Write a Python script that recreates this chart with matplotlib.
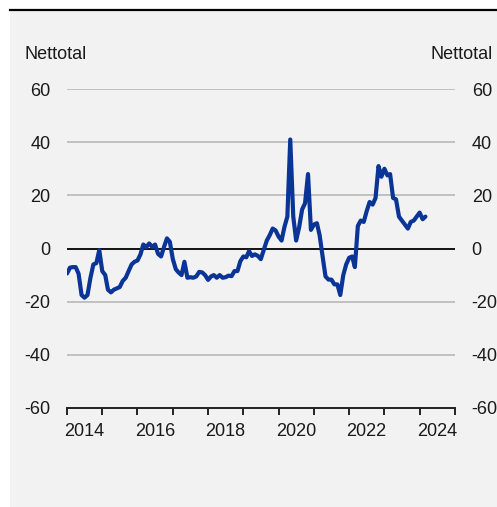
import matplotlib
matplotlib.use("Agg")
import matplotlib.pyplot as plt
from matplotlib.patches import Rectangle
from matplotlib.lines import Line2D
import pandas as pd

# Monthly net balance, January 2014 onwards
start_month = "2014-01"
nettotal = [
    -9.4, -7.2, -7.0, -7.0, -9.5, -17.5, -18.5, -17.5, -11.0, -6.0,
    -5.5, -0.6, -8.5, -10.0, -15.5, -16.5, -15.5, -15.0, -14.5, -12.2,
    -11.0, -8.5, -6.0, -5.0, -4.5, -2.2, 1.5, 0.5, 1.9, 0.6,
    1.5, -2.0, -3.0, 0.5, 3.8, 2.5, -4.0, -7.8, -9.0, -10.0,
    -5.0, -11.0, -10.8, -11.0, -10.5, -8.8, -9.0, -10.0, -11.8, -10.5,
    -10.0, -11.0, -10.0, -11.0, -10.8, -10.2, -10.4, -8.5, -8.5, -4.8,
    -3.0, -3.3, -1.0, -2.8, -2.2, -2.8, -4.0, -0.5, 3.0, 5.0,
    7.5, 6.8, 4.5, 3.0, 8.0, 12.0, 41.0, 12.0, 3.0, 8.0,
    14.7, 17.0, 28.0, 7.0, 9.0, 9.5, 5.0, -3.0, -10.5, -11.7,
    -11.7, -13.5, -13.5, -17.5, -10.0, -6.0, -3.5, -3.0, -7.0, 8.5,
    10.5, 10.0, 14.0, 17.5, 16.5, 19.0, 31.0, 27.0, 30.0, 27.5,
    28.0, 19.0, 18.5, 12.0, 10.5, 9.0, 7.5, 10.0, 10.5, 12.0,
    13.5, 11.0, 12.0,
]
y_ticks = [-60, -40, -20, 0, 20, 40, 60]
year_labels = ["2014", "2016", "2018", "2020", "2022", "2024"]
first_year, last_year = 2014, 2025
axis_title = "Nettotal"

dates = pd.date_range(start_month, periods=len(nettotal), freq="MS")

plt.rcParams["font.family"] = ["Liberation Sans", "DejaVu Sans"]
W, H = 497, 507
fig = plt.figure(figsize=(W / 100, H / 100), dpi=100)
fig.patch.set_facecolor("white")

# Grey panel with a black rule along its top edge
fig.patches.append(Rectangle((10 / W, 0), 1 - 10 / W, 1 - 10 / H,
                             transform=fig.transFigure, facecolor="#f2f2f2",
                             edgecolor="none", zorder=-10))
fig.lines.append(Line2D([10 / W, 1], [1 - 10 / H, 1 - 10 / H],
                        transform=fig.transFigure, color="black", lw=1.6,
                        zorder=-5))

left, right = 67 / W, 455 / W
bottom, top = 1 - 408 / H, 1 - 89 / H
ax = fig.add_axes([left, bottom, right - left, top - bottom])
ax.set_facecolor("none")

ax.set_ylim(-60, 60)
x0 = pd.Timestamp(f"{first_year}-01-01")
x1 = pd.Timestamp(f"{last_year}-01-01")
ax.set_xlim(x0, x1)

for v in y_ticks:
    if v == -60:
        continue
    ax.axhline(v, color="black" if v == 0 else "#b3b3b3",
               lw=1.3 if v == 0 else 1.1, zorder=1)

ax.plot(dates, nettotal, color="#0a3596", lw=3.0, solid_capstyle="round",
        solid_joinstyle="round", zorder=3)

for s in ["top", "left", "right"]:
    ax.spines[s].set_visible(False)
ax.spines["bottom"].set_color("#222222")
ax.spines["bottom"].set_linewidth(1.4)

# Year boundary ticks, labels centred in the middle of every other year
ax.set_xticks([pd.Timestamp(f"{y}-01-01") for y in range(first_year, last_year + 1)])
ax.set_xticklabels([])
ax.tick_params(axis="x", which="major", direction="out", length=5,
               width=1.4, color="#222222")
ax.set_xticks([pd.Timestamp(f"{y}-07-01") for y in map(int, year_labels)],
              minor=True)
ax.set_xticklabels(year_labels, minor=True)
ax.tick_params(axis="x", which="minor", length=0, pad=11, labelsize=13,
               labelcolor="#1a1a1a")

ax.set_yticks(y_ticks)
ax.set_yticklabels([str(v) for v in y_ticks])
ax.tick_params(axis="y", length=0, pad=12, labelsize=13, labelcolor="#1a1a1a",
               left=True, right=True, labelleft=True, labelright=True)

fig.text(25 / W, 1 - 59 / H, axis_title, fontsize=13, color="#1a1a1a",
         ha="left", va="baseline")
fig.text(493 / W, 1 - 59 / H, axis_title, fontsize=13, color="#1a1a1a",
         ha="right", va="baseline")

fig.savefig("out.png", dpi=100, facecolor=fig.get_facecolor())
